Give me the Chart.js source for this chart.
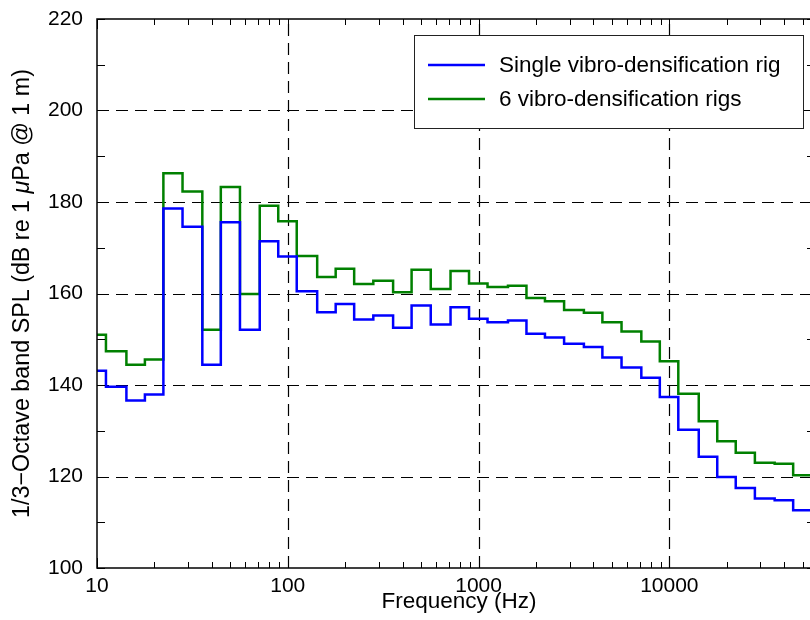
<!DOCTYPE html>
<html>
<head>
<meta charset="utf-8">
<script src="https://cdn.jsdelivr.net/npm/chart.js@4"></script>
<style>
  html, body { margin: 0; padding: 0; background: #fff; overflow: hidden; }
  canvas { display: block; }
</style>
</head>
<body>
<canvas id="spl" width="816" height="620"></canvas>
<script>
// 1/3-octave band centre frequencies (Hz)
const bandCenters = [10, 12.5, 16, 20, 25, 31.5, 40, 50, 63, 80, 100, 125, 160, 200, 250, 315, 400, 500, 630, 800,
  1000, 1250, 1600, 2000, 2500, 3150, 4000, 5000, 6300, 8000, 10000, 12500, 16000, 20000, 25000, 31500, 40000, 50000];

// band SPL, dB re 1 uPa @ 1 m
const singleRig = [143.1, 139.6, 136.6, 137.9, 178.6, 174.6, 144.4, 175.6, 152.1, 171.4, 168.1, 160.5, 155.9, 157.7,
  154.3, 155.2, 152.5, 157.4, 153.2, 157.0, 154.5, 153.7, 154.1, 151.2, 150.4, 149.0, 148.3, 146.0, 143.8, 141.6,
  137.4, 130.2, 124.3, 119.9, 117.5, 115.2, 114.8, 112.6];
const sixRigs = [151.0, 147.4, 144.4, 145.6, 186.3, 182.3, 152.1, 183.3, 159.9, 179.2, 175.8, 168.2, 163.6, 165.4,
  162.1, 162.8, 160.3, 165.2, 161.0, 164.9, 162.2, 161.4, 161.7, 159.0, 158.3, 156.4, 155.8, 153.7, 151.7, 149.5,
  145.2, 138.1, 132.1, 127.7, 125.2, 123.0, 122.8, 120.3];

const seriesLabels = ['Single vibro-densification rig', '6 vibro-densification rigs'];
const seriesColors = ['#0000ff', '#008000'];

const yMajor = [100, 120, 140, 160, 180, 200, 220];
const xDecades = [10, 100, 1000, 10000];

const FONT = '"Liberation Sans", Arial, Helvetica, sans-serif';
const TICK_SIZE = 21;
const TEXT_SIZE = 22.5;
const YTITLE_SIZE = 23.3;

// stepped outline: each band runs from its lower to its upper edge
function bandSteps(values) {
  const half = Math.pow(10, 0.05);
  const pts = bandCenters.map((fc, i) => ({ x: fc / half, y: values[i] }));
  const last = bandCenters.length - 1;
  pts.push({ x: bandCenters[last] * half, y: values[last] });
  return pts;
}

const axesDecor = {
  id: 'axesDecor',
  beforeDatasetsDraw(chart) {
    const { ctx, chartArea: a, scales: { x, y } } = chart;
    ctx.save();
    ctx.strokeStyle = '#000';
    ctx.lineWidth = 1.2;
    ctx.setLineDash([12, 7]);
    yMajor.forEach(v => {
      if (v <= y.min || v >= y.max) return;
      const py = Math.round(y.getPixelForValue(v)) + 0.5;
      ctx.beginPath(); ctx.moveTo(a.left, py); ctx.lineTo(a.right, py); ctx.stroke();
    });
    xDecades.forEach(v => {
      if (v <= x.min || v >= x.max) return;
      const px = Math.round(x.getPixelForValue(v)) + 0.5;
      ctx.beginPath(); ctx.moveTo(px, a.bottom); ctx.lineTo(px, a.top); ctx.stroke();
    });
    ctx.restore();
  },
  afterDraw(chart) {
    const { ctx, chartArea: a, scales: { x, y } } = chart;
    ctx.save();
    ctx.strokeStyle = '#000';
    ctx.lineWidth = 1;

    // inward ticks, y every 10 dB
    for (let v = y.min; v <= y.max; v += 10) {
      const py = Math.round(y.getPixelForValue(v)) + 0.5;
      ctx.beginPath();
      ctx.moveTo(a.left, py); ctx.lineTo(a.left + 8, py);
      ctx.moveTo(a.right, py); ctx.lineTo(a.right - 8, py);
      ctx.stroke();
    }
    // inward ticks, x decades and 2..9 minors
    for (let d = 10; d <= x.max; d *= 10) {
      for (let m = 1; m <= 9; m++) {
        const v = d * m;
        if (v < x.min || v > x.max) continue;
        const len = m === 1 ? 10 : 6;
        const px = Math.round(x.getPixelForValue(v)) + 0.5;
        ctx.beginPath();
        ctx.moveTo(px, a.bottom); ctx.lineTo(px, a.bottom - len);
        ctx.moveTo(px, a.top); ctx.lineTo(px, a.top + len);
        ctx.stroke();
      }
    }

    // axes frame
    ctx.lineWidth = 1.5;
    ctx.strokeRect(a.left, a.top, a.right - a.left, a.bottom - a.top);

    // legend box
    const lx = 414, ly = 35, lw = 389, lh = 93;
    ctx.fillStyle = '#fff';
    ctx.fillRect(lx, ly, lw, lh);
    ctx.strokeStyle = '#222';
    ctx.lineWidth = 1;
    ctx.strokeRect(lx + 0.5, ly + 0.5, lw, lh);
    ctx.font = `${TEXT_SIZE}px ${FONT}`;
    ctx.textBaseline = 'middle';
    ctx.textAlign = 'left';
    chart.data.datasets.forEach((ds, i) => {
      const rowY = 65 + i * 34;
      ctx.strokeStyle = ds.borderColor;
      ctx.lineWidth = 2.5;
      ctx.beginPath(); ctx.moveTo(428, rowY); ctx.lineTo(485, rowY); ctx.stroke();
      ctx.fillStyle = '#000';
      ctx.fillText(ds.label, 499, rowY + 1);
    });

    // axis titles
    ctx.fillStyle = '#000';
    ctx.textAlign = 'center';
    ctx.fillText('Frequency (Hz)', 459, 602);

    const parts = [
      { t: '1/3\u2212Octave band SPL (dB re 1 ', f: `${YTITLE_SIZE}px ${FONT}` },
      { t: '\u03bc', f: `italic ${YTITLE_SIZE}px ${FONT}` },
      { t: 'Pa @ 1 m)', f: `${YTITLE_SIZE}px ${FONT}` }
    ];
    let total = 0;
    parts.forEach(p => { ctx.font = p.f; p.w = ctx.measureText(p.t).width; total += p.w; });
    ctx.translate(23, (a.top + a.bottom) / 2);
    ctx.rotate(-Math.PI / 2);
    ctx.textAlign = 'left';
    let cx = -total / 2;
    parts.forEach(p => { ctx.font = p.f; ctx.fillText(p.t, cx, 0); cx += p.w; });
    ctx.restore();
  }
};

Chart.defaults.font.family = FONT;
Chart.defaults.font.size = TICK_SIZE;
Chart.defaults.color = '#000';

new Chart(document.getElementById('spl'), {
  type: 'line',
  data: {
    datasets: [singleRig, sixRigs].map((vals, i) => ({
      label: seriesLabels[i],
      data: bandSteps(vals),
      borderColor: seriesColors[i],
      backgroundColor: seriesColors[i],
      borderWidth: 2.5,
      stepped: 'before',
      pointRadius: 0,
      fill: false,
      borderJoinStyle: 'miter'
    }))
  },
  options: {
    responsive: false,
    animation: false,
    layout: { padding: { top: 19, right: 1, left: 0, bottom: 0 } },
    plugins: { legend: { display: false }, tooltip: { enabled: false } },
    scales: {
      x: {
        type: 'logarithmic',
        min: 10,
        max: 58000,
        grid: { display: false, drawTicks: false },
        border: { display: false },
        ticks: {
          autoSkip: false,
          maxRotation: 0,
          padding: 6,
          callback: v => {
            const l = Math.log10(v);
            return Math.abs(l - Math.round(l)) < 1e-9 ? String(v) : null;
          }
        },
        afterFit: s => { s.height = 52; s.paddingLeft = 0; s.paddingRight = 0; }
      },
      y: {
        min: 100,
        max: 220,
        grid: { display: false, drawTicks: false },
        border: { display: false },
        ticks: { stepSize: 20, padding: 14 },
        afterFit: s => { s.width = 97; s.paddingTop = 0; s.paddingBottom = 0; }
      }
    }
  },
  plugins: [axesDecor]
});
</script>
</body>
</html>
